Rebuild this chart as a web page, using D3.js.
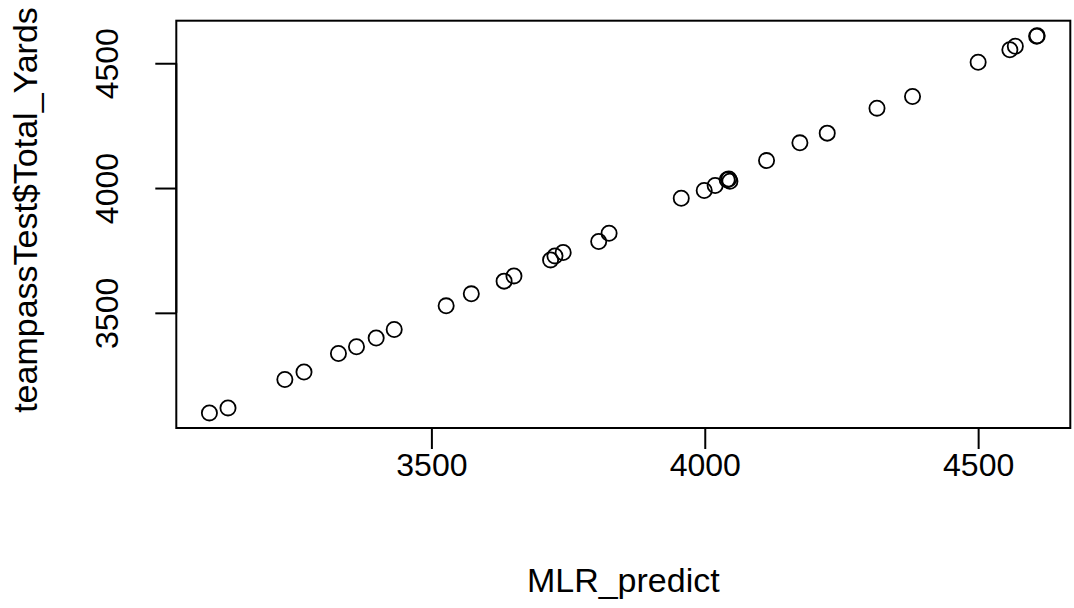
<!DOCTYPE html>
<html>
<head>
<meta charset="utf-8">
<script src="https://cdn.jsdelivr.net/npm/d3@7"></script>
<style>
  body { margin: 0; background: #fff; }
  text { font-family: "Liberation Sans", Arial, Helvetica, sans-serif; fill: #000; }
</style>
</head>
<body>
<svg id="chart" width="1074" height="608"></svg>
<script>
// Predicted vs. actual total passing yards
const mlrPredict = [
  3094, 3128, 3232, 3267, 3330, 3363, 3399, 3432, 3527, 3573,
  3633, 3651, 3718, 3726, 3741, 3806, 3825, 3957, 3999, 4019,
  4041, 4044, 4046, 4113, 4174, 4224, 4315, 4380, 4500, 4558,
  4568, 4607, 4608
];
const totalYards = [
  3099, 3119, 3233, 3263, 3337, 3364, 3399, 3433, 3528, 3576,
  3627, 3648, 3712, 3728, 3742, 3786, 3819, 3959, 3990, 4010,
  4033, 4036, 4027, 4110, 4181, 4220, 4320, 4367, 4504, 4554,
  4568, 4608, 4610
];
const xTicks = [3500, 4000, 4500];
const yTicks = [3500, 4000, 4500];
const xLabel = "MLR_predict";
const yLabel = "teampassTest$Total_Yards";

const svg = d3.select("#chart");
const plot = { left: 176.3, right: 1070.3, top: 20.7, bottom: 428 };

// pad each data range by 4% on both sides
function padded(vals) {
  const [lo, hi] = d3.extent(vals);
  const p = (hi - lo) * 0.04;
  return [lo - p, hi + p];
}

const x = d3.scaleLinear().domain(padded(mlrPredict)).range([plot.left, plot.right]);
const y = d3.scaleLinear().domain(padded(totalYards)).range([plot.bottom, plot.top]);

const tickFont = 32;
const titleFont = 34;

// bottom axis
const xAxis = svg.append("g")
  .attr("transform", `translate(0,${plot.bottom})`)
  .call(d3.axisBottom(x).tickValues(xTicks).tickSize(21).tickPadding(4).tickFormat(d3.format("d")));
xAxis.select(".domain").attr("d", `M${x(xTicks[0])},0H${x(xTicks[xTicks.length - 1])}`)
  .attr("stroke", "#000").attr("stroke-width", 2);
xAxis.selectAll(".tick line").attr("stroke", "#000").attr("stroke-width", 2);
xAxis.selectAll(".tick text").attr("font-size", tickFont)
  .attr("font-family", "Liberation Sans, Arial, sans-serif").attr("fill", "#000");

// left axis with rotated labels
const yAxis = svg.append("g")
  .attr("transform", `translate(${plot.left},0)`)
  .call(d3.axisLeft(y).tickValues(yTicks).tickSize(21).tickFormat(d3.format("d")));
yAxis.select(".domain").attr("d", `M0,${y(yTicks[0])}V${y(yTicks[yTicks.length - 1])}`)
  .attr("stroke", "#000").attr("stroke-width", 2);
yAxis.selectAll(".tick line").attr("stroke", "#000").attr("stroke-width", 2);
yAxis.selectAll(".tick text")
  .attr("font-size", tickFont)
  .attr("font-family", "Liberation Sans, Arial, sans-serif").attr("fill", "#000")
  .attr("x", null).attr("dy", null)
  .attr("text-anchor", "middle")
  .attr("transform", "translate(-58,0) rotate(-90)");

// plot frame
svg.append("rect")
  .attr("x", plot.left).attr("y", plot.top)
  .attr("width", plot.right - plot.left).attr("height", plot.bottom - plot.top)
  .attr("fill", "none").attr("stroke", "#000").attr("stroke-width", 2);

// open circles
svg.append("g").selectAll("circle")
  .data(mlrPredict.map((v, i) => [v, totalYards[i]]))
  .join("circle")
  .attr("cx", d => x(d[0]))
  .attr("cy", d => y(d[1]))
  .attr("r", 7.6)
  .attr("fill", "none")
  .attr("stroke", "#000")
  .attr("stroke-width", 1.8);

// axis titles
svg.append("text")
  .attr("x", (plot.left + plot.right) / 2)
  .attr("y", 592)
  .attr("text-anchor", "middle")
  .attr("font-size", titleFont)
  .text(xLabel);

svg.append("text")
  .attr("transform", "translate(37,210) rotate(-90)")
  .attr("text-anchor", "middle")
  .attr("font-size", titleFont)
  .text(yLabel);
</script>
</body>
</html>
